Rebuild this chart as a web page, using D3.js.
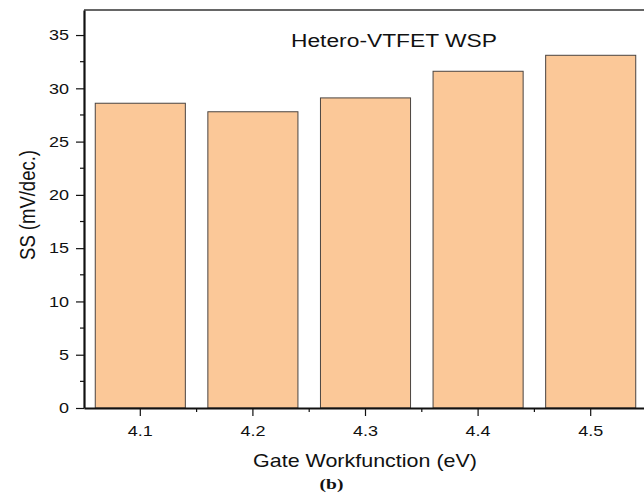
<!DOCTYPE html>
<html>
<head>
<meta charset="utf-8">
<script src="https://cdn.jsdelivr.net/npm/d3@7"></script>
<style>
  body { margin: 0; background: #fff; }
  text { font-family: "Liberation Sans", Arial, sans-serif; fill: #111; }
</style>
</head>
<body>
<div id="chart"></div>
<script>
// data
const workfunctions = ["4.1", "4.2", "4.3", "4.4", "4.5"];
const ssValues = [28.6, 27.8, 29.1, 31.6, 33.1];
const yTicks = [0, 5, 10, 15, 20, 25, 30, 35];

const W = 644, H = 493;
const margin = {top: 10, right: -3, bottom: 85, left: 84};
const width = W - margin.left - margin.right;
const height = H - margin.top - margin.bottom;

// the original figure's text is a little wider than it is tall
const stretch = 1.2;

const svg = d3.select("#chart").append("svg")
    .attr("width", W)
    .attr("height", H);

const g = svg.append("g")
    .attr("transform", "translate(" + margin.left + "," + margin.top + ")");

// scales
const x = d3.scaleBand()
    .domain(workfunctions)
    .range([0, width])
    .paddingInner(0.2)
    .paddingOuter(0.1);

const y = d3.scaleLinear()
    .domain([0, 37.35])
    .range([height, 0]);

// bars
g.selectAll(".bar")
    .data(ssValues)
    .enter().append("rect")
    .attr("class", "bar")
    .attr("x", (d, i) => x(workfunctions[i]))
    .attr("y", d => y(d))
    .attr("width", x.bandwidth())
    .attr("height", d => height - y(d))
    .attr("fill", "#fbc898")
    .attr("stroke", "#4a4440")
    .attr("stroke-width", 1);

// top frame line
g.append("line")
    .attr("x1", 0).attr("x2", width)
    .attr("y1", 0).attr("y2", 0)
    .attr("stroke", "#333").attr("stroke-width", 1.5);

// y axis with minor ticks
const minorY = d3.range(2.5, 37, 5);
g.selectAll(".yminor")
    .data(minorY)
    .enter().append("line")
    .attr("x1", -4).attr("x2", 0)
    .attr("y1", d => y(d)).attr("y2", d => y(d))
    .attr("stroke", "#111").attr("stroke-width", 1.2);

const yAxis = g.append("g")
    .call(d3.axisLeft(y).tickValues(yTicks).tickSize(8).tickSizeOuter(0));
yAxis.select(".domain").attr("stroke", "#111").attr("stroke-width", 2.2);
yAxis.selectAll(".tick line").attr("stroke", "#111").attr("stroke-width", 1.2);
yAxis.selectAll(".tick text")
    .attr("x", -12.5)
    .attr("transform", "scale(" + stretch + ",1)")
    .style("font-size", "15px")
    .attr("fill", "#111");

// x axis: major ticks at categories, minor between them
const step = x.step();
const minorX = d3.range(1, workfunctions.length).map(i => x(workfunctions[i]) - step * 0.1);
g.selectAll(".xminor")
    .data(minorX)
    .enter().append("line")
    .attr("x1", d => d).attr("x2", d => d)
    .attr("y1", height).attr("y2", height + 4)
    .attr("stroke", "#111").attr("stroke-width", 1.2);

const xAxis = g.append("g")
    .attr("transform", "translate(0," + height + ")")
    .call(d3.axisBottom(x).tickSize(8).tickPadding(9).tickSizeOuter(0));
xAxis.select(".domain").attr("stroke", "#111").attr("stroke-width", 2.2);
xAxis.selectAll(".tick line").attr("stroke", "#111").attr("stroke-width", 1.2);
xAxis.selectAll(".tick text")
    .attr("transform", "scale(" + stretch + ",1)")
    .style("font-size", "15px")
    .attr("fill", "#111");

// chart title inside plot
svg.append("text")
    .attr("transform", "translate(291,46.5) scale(1.2,1)")
    .style("font-size", "19px")
    .text("Hetero-VTFET WSP");

// axis titles
svg.append("text")
    .attr("transform", "translate(35,205) rotate(-90) scale(1,1.15)")
    .attr("text-anchor", "middle")
    .style("font-size", "18.5px")
    .text("SS (mV/dec.)");

svg.append("text")
    .attr("transform", "translate(365,466.5) scale(1.13,1)")
    .attr("text-anchor", "middle")
    .style("font-size", "19px")
    .text("Gate Workfunction (eV)");

svg.append("text")
    .attr("transform", "translate(331.5,489) scale(1.3,1)")
    .attr("text-anchor", "middle")
    .style("font-family", "'Liberation Serif', 'Times New Roman', serif")
    .style("font-weight", "bold")
    .style("font-size", "15px")
    .text("(b)");
</script>
</body>
</html>
